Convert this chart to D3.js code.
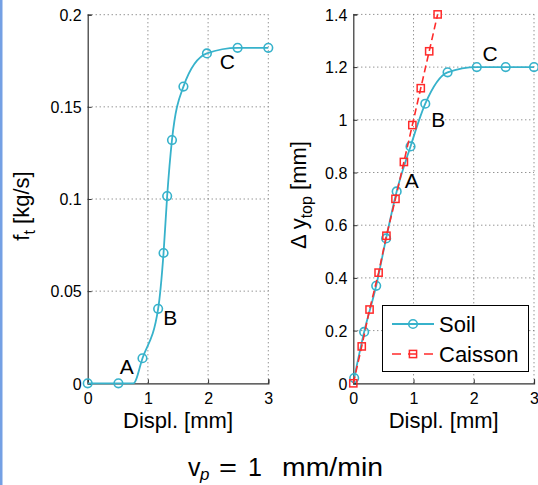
<!DOCTYPE html>
<html><head><meta charset="utf-8">
<script src="https://cdn.jsdelivr.net/npm/d3@7"></script>
<style>
html,body{margin:0;padding:0;background:#fff;}
svg{display:block;}
text{font-family:"Liberation Sans",Arial,sans-serif;fill:#000;}
</style></head>
<body>
<script>
// ---- data ----
const xTicks = [0, 1, 2, 3];
const ftTicks = [0, 0.05, 0.1, 0.15, 0.2];
const ftTickLabels = ["0", "0.05", "0.1", "0.15", "0.2"];
const dyTicks = [0, 0.2, 0.4, 0.6, 0.8, 1, 1.2, 1.4];
const dyTickLabels = ["0", "0.2", "0.4", "0.6", "0.8", "1", "1.2", "1.4"];

// left panel: f_t vs displacement (markers)
const ftDispl = [0, 0.51, 0.91, 1.17, 1.26, 1.32, 1.40, 1.59, 1.98, 2.49, 3.0];
const ftFlow  = [0, 0, 0.0136, 0.0404, 0.0707, 0.1016, 0.132, 0.161, 0.179, 0.182, 0.182];
// left panel curve trace
const ftCurveDispl = [0, 0.51, 0.76, 0.91, 1.17, 1.26, 1.32, 1.40, 1.59, 1.98, 2.49, 3.0];
const ftCurveFlow  = [0, 0, 0, 0.0136, 0.0404, 0.0707, 0.1016, 0.132, 0.161, 0.179, 0.182, 0.182];

// right panel: Δy_top vs displacement
const soilDispl = [0.015, 0.18, 0.38, 0.545, 0.72, 0.95, 1.195, 1.565, 2.05, 2.53, 3.0];
const soilDy    = [0.02, 0.195, 0.37, 0.55, 0.728, 0.899, 1.061, 1.18, 1.2, 1.2, 1.2];
const caissonDispl = [0, 0.14, 0.27, 0.42, 0.55, 0.70, 0.84, 0.98, 1.12, 1.26, 1.40];
const caissonDy    = [0, 0.14, 0.28, 0.42, 0.56, 0.70, 0.84, 0.98, 1.12, 1.26, 1.40];

const ftLabels = [{t:"A", x:0.65, y:0.005}, {t:"B", x:1.37, y:0.0317}, {t:"C", x:2.32, y:0.1708}];
const dyLabels = [{t:"A", x:0.97, y:0.743}, {t:"B", x:1.41, y:0.971}, {t:"C", x:2.27, y:1.225}];
const legendNames = ["Soil", "Caisson"];

// ---- drawing ----
const W = 538, H = 485;
const blue = "#37b2cb", red = "#ff2b2b";
const svg = d3.select("body").append("svg").attr("width", W).attr("height", H);

// left border strip
svg.append("rect").attr("x",0).attr("y",0).attr("width",2.5).attr("height",H).attr("fill","#74a0e4");

function panel(xr, yr, ydom, yTicks, yLabels) {
  const x = d3.scaleLinear().domain([0,3]).range(xr);
  const y = d3.scaleLinear().domain(ydom).range(yr);
  const g = svg.append("g");
  // grid
  g.selectAll(".gx").data(xTicks.slice(1)).enter().append("line")
    .attr("x1", d=>x(d)).attr("x2", d=>x(d)).attr("y1", yr[0]).attr("y2", yr[1])
    .attr("stroke","#666").attr("stroke-width",1).attr("stroke-dasharray","1,3");
  g.selectAll(".gy").data(yTicks.slice(1)).enter().append("line")
    .attr("y1", d=>y(d)).attr("y2", d=>y(d)).attr("x1", xr[0]).attr("x2", xr[1])
    .attr("stroke","#666").attr("stroke-width",1).attr("stroke-dasharray","1,3");
  // axes
  const ax = g.append("g").attr("transform", `translate(0,${yr[0]})`)
    .call(d3.axisBottom(x).tickValues(xTicks).tickFormat(d3.format("d")).tickSize(-4).tickPadding(7));
  const ay = g.append("g").attr("transform", `translate(${xr[0]},0)`)
    .call(d3.axisLeft(y).tickValues(yTicks).tickFormat((d,i)=>yLabels[i]).tickSize(-4).tickPadding(6));
  [ax, ay].forEach(a => {
    a.select(".domain").attr("stroke","#333").attr("stroke-width",1.2);
    a.selectAll(".tick line").attr("stroke","#333");
    a.selectAll("text").attr("font-family","Liberation Sans, Arial, sans-serif").attr("font-size",16).attr("fill","#000");
  });
  ax.selectAll("text").attr("dy","0.85em");
  ay.selectAll("text").attr("dy","0.36em");
  return {x, y, g};
}

const L = panel([87.7, 268.3], [383.3, 14.7], [0, 0.2], ftTicks, ftTickLabels);
const R = panel([353.3, 534], [383.3, 14.4], [0, 1.4], dyTicks, dyTickLabels);

function circles(P, xs, ys, color) {
  P.g.selectAll(null).data(xs).enter().append("circle")
    .attr("cx", d=>P.x(d)).attr("cy", (d,i)=>P.y(ys[i])).attr("r", 4.3)
    .attr("fill","none").attr("stroke", color).attr("stroke-width",1.6);
}
function squares(P, xs, ys, color) {
  P.g.selectAll(null).data(xs).enter().append("rect")
    .attr("x", d=>P.x(d)-3.6).attr("y", (d,i)=>P.y(ys[i])-3.6).attr("width",7.2).attr("height",7.2)
    .attr("fill","none").attr("stroke", color).attr("stroke-width",1.5);
}

// left curve
const lineL = d3.line().x(d=>L.x(d[0])).y(d=>L.y(d[1])).curve(d3.curveMonotoneX);
L.g.append("path").attr("d", lineL(ftCurveDispl.map((d,i)=>[d, ftCurveFlow[i]])))
  .attr("fill","none").attr("stroke", blue).attr("stroke-width",1.8);
circles(L, ftDispl, ftFlow, blue);

// right curves
const lineR = d3.line().x(d=>R.x(d[0])).y(d=>R.y(d[1])).curve(d3.curveMonotoneX);
R.g.append("path").attr("d", lineR(soilDispl.map((d,i)=>[d, soilDy[i]])))
  .attr("fill","none").attr("stroke", blue).attr("stroke-width",1.8);
circles(R, soilDispl, soilDy, blue);
const lineRl = d3.line().x(d=>R.x(d[0])).y(d=>R.y(d[1]));
R.g.append("path").attr("d", lineRl(caissonDispl.map((d,i)=>[d, caissonDy[i]])))
  .attr("fill","none").attr("stroke", red).attr("stroke-width",1.6).attr("stroke-dasharray","7,4");
squares(R, caissonDispl, caissonDy, red);

// point labels
[[L, ftLabels], [R, dyLabels]].forEach(([P, labs]) => {
  P.g.selectAll(null).data(labs).enter().append("text")
    .attr("x", d=>P.x(d.x)).attr("y", d=>P.y(d.y)).attr("text-anchor","middle")
    .attr("font-size",21).text(d=>d.t);
});

// axis titles
svg.append("text").attr("x",178).attr("y",428).attr("text-anchor","middle").attr("font-size",22).text("Displ. [mm]");
svg.append("text").attr("x",443.7).attr("y",428).attr("text-anchor","middle").attr("font-size",22).text("Displ. [mm]");

const yt1 = svg.append("text").attr("transform","translate(29,206) rotate(-90)").attr("text-anchor","middle").attr("font-size",22);
yt1.append("tspan").text("f");
yt1.append("tspan").attr("font-size",16).attr("dy",6).text("t");
yt1.append("tspan").attr("dy",-6).text(" [kg/s]");

const yt2 = svg.append("text").attr("transform","translate(306,195) rotate(-90)").attr("text-anchor","middle").attr("font-size",22);
yt2.append("tspan").text("\u0394 y");
yt2.append("tspan").attr("font-size",16).attr("dy",6).text("top");
yt2.append("tspan").attr("dy",-6).text(" [mm]");

// legend
const lg = svg.append("g");
lg.append("rect").attr("x",382.5).attr("y",305.5).attr("width",146).attr("height",66)
  .attr("fill","#fff").attr("stroke","#000").attr("stroke-width",1);
lg.append("line").attr("x1",392).attr("x2",434).attr("y1",324).attr("y2",324).attr("stroke",blue).attr("stroke-width",1.8);
lg.append("circle").attr("cx",413).attr("cy",324).attr("r",4.3).attr("fill","none").attr("stroke",blue).attr("stroke-width",1.6);
lg.append("line").attr("x1",392).attr("x2",434).attr("y1",354).attr("y2",354).attr("stroke",red).attr("stroke-width",1.6).attr("stroke-dasharray","9,7");
lg.append("rect").attr("x",413-3.6).attr("y",354-3.6).attr("width",7.2).attr("height",7.2).attr("fill","none").attr("stroke",red).attr("stroke-width",1.5);
lg.selectAll(null).data(legendNames).enter().append("text")
  .attr("x",439).attr("y",(d,i)=>332+i*30).attr("font-size",22).text(d=>d);

// bottom title: v_p = 1 mm/min
const tb = 476;
const tg = svg.append("g");
tg.append("text").attr("x",188).attr("y",tb).attr("font-family","Liberation Serif, serif").attr("font-size",25).text("v");
tg.append("text").attr("x",200).attr("y",tb+4).attr("font-family","DejaVu Sans, sans-serif").attr("font-style","italic").attr("font-size",17).text("p");
tg.append("text").attr("x",219).attr("y",tb).attr("font-family","Liberation Serif, serif").attr("font-size",25)
  .attr("textLength",18).attr("lengthAdjust","spacingAndGlyphs").text("=");
tg.append("text").attr("x",248).attr("y",tb).attr("font-family","Liberation Serif, serif").attr("font-size",25).text("1");
tg.append("text").attr("x",282).attr("y",tb).attr("font-family","Liberation Sans, sans-serif").attr("font-size",25)
  .attr("textLength",101).attr("lengthAdjust","spacingAndGlyphs").text("mm/min");
</script>
</body></html>
